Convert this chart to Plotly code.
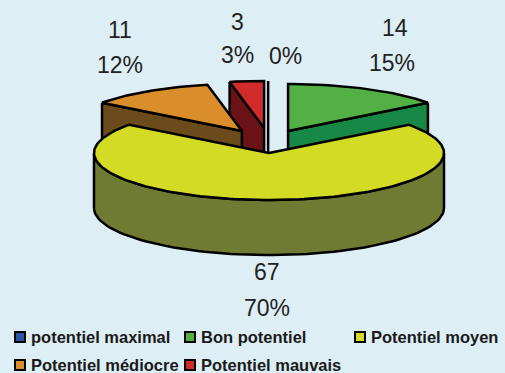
import numpy as np
import plotly.graph_objects as go

categories = ["potentiel maximal", "Bon potentiel", "Potentiel moyen", "Potentiel médiocre", "Potentiel mauvais"]
counts = [0, 14, 67, 11, 3]
percent_labels = ["0%", "15%", "70%", "12%", "3%"]
count_labels = ["", "14", "67", "11", "3"]
top_colors = ["#2A55A4", "#52B044", "#D3DB24", "#D98E2B", "#D12C2B"]
side_colors = ["#15295A", "#178845", "#6F7A33", "#6B4A1C", "#6B1216"]

W, H = 505, 373
BG = "#DDEEF4"
CX, CY, RX = 269, 153, 175
TILT = 47 / 175
DEPTH = 55 / 175
# explosion offsets in radius units (x, y up)
offsets = [(-0.005, 0.143), (0.109, 0.126), (0, 0), (-0.155, 0.126), (-0.028, 0.143)]
paint_order = [0, 4, 3, 1, 2]

# pixel anchor positions of text labels
count_pos = [None, (395, 28), (267, 272), (120, 30), (237, 22)]
pct_pos = [(285, 56), (392, 63), (267, 308), (120, 65), (237, 55)]
legend_pos = [(20, 337), (190, 337), (360, 337), (20, 365), (190, 365)]

def u_x(px):
    return (px - CX) / RX

def u_y(py):
    return (CY - py) / RX

def rim(a, off):
    return off[0] + np.sin(a), off[1] + TILT * np.cos(a)

fig = go.Figure()

def poly(xs, ys, fill):
    fig.add_trace(go.Scatter(x=list(xs), y=list(ys), mode="lines", fill="toself", fillcolor=fill,
                             line=dict(color="#000000", width=2.5), showlegend=False, hoverinfo="skip"))

total = sum(counts)
edges = np.concatenate([[0], np.cumsum(counts)]) / total * 2 * np.pi

for i in paint_order:
    a0, a1 = edges[i], edges[i + 1]
    off = offsets[i]
    ax, ay = off
    # an empty slice collapses to its edge, extruded downwards
    if a1 == a0:
        rx_, ry_ = rim(a0, off)
        poly([rx_, ax, ax, ax, rx_], [ry_, ay, ay - DEPTH, ay, ry_], side_colors[i])
        continue
    # outer wall
    lo, hi = max(a0, np.pi / 2), min(a1, 3 * np.pi / 2)
    if hi > lo:
        t = np.linspace(lo, hi, 80)
        x, y = rim(t, off)
        poly(np.r_[x, x[::-1], x[0]], np.r_[y, y[::-1] - DEPTH, y[0]], side_colors[i])
    # cut faces that look towards the viewer
    for a, visible in ((a0, np.sin(a0) < -1e-6), (a1, np.sin(a1) > 1e-6)):
        if visible:
            rx_, ry_ = rim(a, off)
            poly([rx_, ax, ax, rx_, rx_], [ry_, ay, ay - DEPTH, ry_ - DEPTH, ry_], side_colors[i])
    # top surface
    t = np.linspace(a0, a1, max(2, int((a1 - a0) * 40)))
    x, y = rim(t, off)
    poly(np.r_[ax, x, ax], np.r_[ay, y, ay], top_colors[i])

# legend keys
for i, name in enumerate(categories):
    lx, ly = legend_pos[i]
    fig.add_trace(go.Scatter(x=[u_x(lx)], y=[u_y(ly)], mode="markers",
                             marker=dict(symbol="square", size=10, color=top_colors[i],
                                         line=dict(color="#000000", width=2)),
                             showlegend=False, hoverinfo="skip", cliponaxis=False))
    fig.add_annotation(x=u_x(lx + 10), y=u_y(ly), text=name, showarrow=False, xanchor="left",
                       xshift=-1, font=dict(family="Liberation Sans", size=16.5, color="#1A1A1A", weight="bold"))

def label(pos, text):
    fig.add_annotation(x=u_x(pos[0]), y=u_y(pos[1]), text=text, showarrow=False,
                       font=dict(family="Liberation Sans", size=23, color="#222222"))

for i in range(len(categories)):
    if count_pos[i]:
        label(count_pos[i], count_labels[i])
    label(pct_pos[i], percent_labels[i])

fig.update_layout(
    width=W, height=H, margin=dict(l=0, r=0, t=0, b=0),
    paper_bgcolor=BG, plot_bgcolor=BG, showlegend=False,
    xaxis=dict(range=[u_x(0), u_x(W)], visible=False, fixedrange=True),
    yaxis=dict(range=[u_y(H), u_y(0)], visible=False, fixedrange=True),
)
fig.write_html("out.html", config=dict(displayModeBar=False),
               post_script="document.body.style.margin='0';document.body.style.overflow='hidden';document.documentElement.style.overflow='hidden';")
